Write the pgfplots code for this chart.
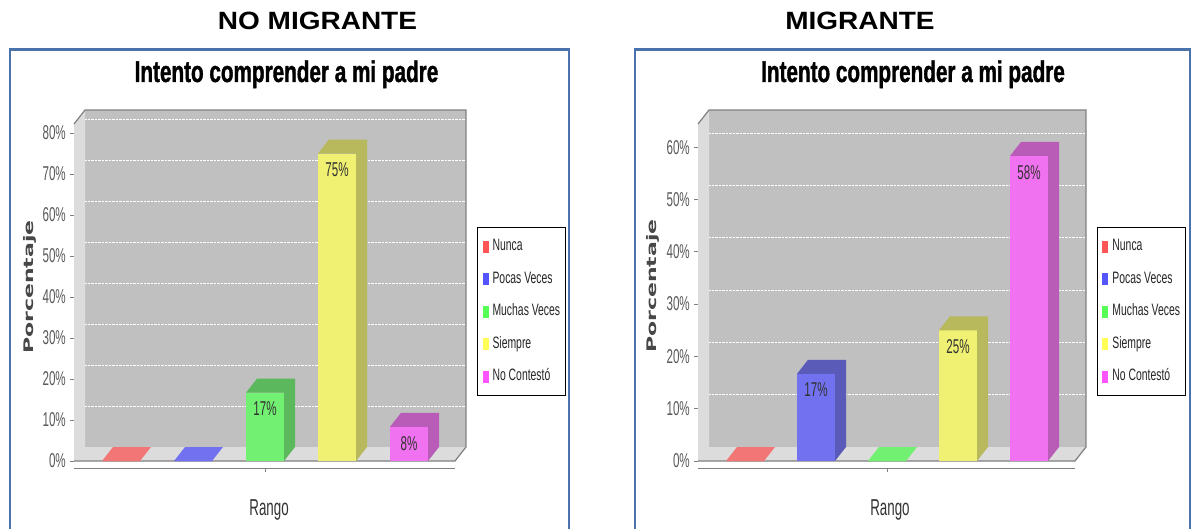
\documentclass[border=0pt]{standalone}
\usepackage{fontspec}
\usepackage{graphicx}
\usepackage{pgfplots}
\pgfplotsset{compat=1.18}
\setmainfont{Liberation Sans}
\newfontfamily\headfont[FakeStretch=1.12]{Liberation Sans}
\newfontfamily\titlefont[FakeStretch=0.69,FakeBold=1.2]{Liberation Sans}
\newfontfamily\narrowfont[FakeStretch=0.58]{Liberation Sans}
\newfontfamily\legfont[FakeStretch=0.63]{Liberation Sans}
\newfontfamily\labfont{DejaVu Sans}

\definecolor{frameblue}{HTML}{4A72AC}
\definecolor{wallback}{HTML}{C0C0C0}
\definecolor{wallside}{HTML}{DCDCDC}
\definecolor{edgegray}{HTML}{808080}
\definecolor{rF}{HTML}{F27676}\definecolor{rD}{HTML}{B85C5C}\definecolor{rL}{HTML}{FF5555}
\definecolor{bF}{HTML}{7272F0}\definecolor{bD}{HTML}{5A5AB8}\definecolor{bL}{HTML}{5555FF}
\definecolor{gF}{HTML}{72F072}\definecolor{gD}{HTML}{5CB85C}\definecolor{gL}{HTML}{55FF55}
\definecolor{yF}{HTML}{F0F072}\definecolor{yD}{HTML}{B8B85C}\definecolor{yL}{HTML}{FFFF55}
\definecolor{mF}{HTML}{F072F0}\definecolor{mD}{HTML}{B85CB8}\definecolor{mL}{HTML}{FF55FF}

% top + side face of a 3D bar; origin = front-top centre of the bar
\pgfdeclareplotmark{cube3d}{%
  \pgfmathsetmacro\Hneg{-\barval*\yunitpx}%
  \pgfmathsetmacro\Hside{14-\barval*\yunitpx}%
  \pgfpathmoveto{\pgfpoint{-19pt}{0pt}}%
  \pgfpathlineto{\pgfpoint{19pt}{0pt}}%
  \pgfpathlineto{\pgfpoint{19pt}{\Hneg pt}}%
  \pgfpathlineto{\pgfpoint{30pt}{\Hside pt}}%
  \pgfpathlineto{\pgfpoint{30pt}{14pt}}%
  \pgfpathlineto{\pgfpoint{-8pt}{14pt}}%
  \pgfpathclose
  \pgfusepath{fill}%
}

\pgfplotsset{
  mybar/.style 2 args={ybar, bar width=38pt, bar shift=0pt, fill=#1, draw=none,
    legend image code/.code={\fill[#2] (0pt,-6pt) rectangle (6pt,6pt);}},
  mycube/.style={forget plot, only marks, scatter, point meta=y, mark=cube3d,
    mark options={fill=#1, draw=none},
    scatter/@pre marker code/.code={}, scatter/@post marker code/.code={},
    visualization depends on={y \as \barval}},
  panel/.style={
    anchor=south west, scale only axis, height=337pt, clip=false,
    ymin=0,
    axis background/.style={fill=wallback, xshift=11pt, yshift=14pt},
    ymajorgrids, major grid style={white, densely dotted, line width=0.9pt, xshift=11pt, yshift=14pt},
    axis y line*=left, axis x line*=bottom,
    x axis line style={edgegray, line width=1pt, yshift=-7pt, -},
    y axis line style={edgegray, line width=1pt, -},
    xtick={2}, xticklabels={}, xtick style={yshift=-7pt, edgegray, line width=1pt},
    ytick style={edgegray, line width=1pt},
    tick align=outside, major tick length=4pt,
    yticklabel style={font=\narrowfont\fontsize{20}{20}\selectfont, text=black!65, inner xsep=4pt},
    xlabel={Rango},
    ylabel={\scalebox{1}[0.6]{Porcentaje}},
    every node near coord/.append style={anchor=north, yshift=-9pt, inner sep=0pt,
      font=\narrowfont\fontsize{20}{20}\selectfont, text=black!80},
    legend cell align=left,
    legend style={anchor=north west, draw=black, line width=1pt, fill=white,
      font=\legfont\fontsize{16.5}{16.5}\selectfont, text=black!85,
      inner xsep=5pt, inner ysep=12pt, row sep=18.5pt, column sep=4pt,
      nodes={inner sep=0pt, text height=11pt, text depth=3pt}},
  },
}

\newcommand\walls{%
  \fill[wallside] (rel axis cs:0,0) -- (rel axis cs:1,0) -- ([shift={(11pt,14pt)}]rel axis cs:1,0) -- ([shift={(11pt,14pt)}]rel axis cs:0,0) -- cycle;
  \fill[wallside] (rel axis cs:0,0) -- (rel axis cs:0,1) -- ([shift={(11pt,14pt)}]rel axis cs:0,1) -- ([shift={(11pt,14pt)}]rel axis cs:0,0) -- cycle;
  \draw[edgegray, line width=1.2pt] (rel axis cs:0,1) -- ([shift={(11pt,14pt)}]rel axis cs:0,1) -- ([shift={(11pt,14pt)}]rel axis cs:1,1) -- ([shift={(11pt,14pt)}]rel axis cs:1,0) -- (rel axis cs:1,0) -- (rel axis cs:0,0);
}

\begin{document}
\begin{tikzpicture}
\useasboundingbox (0pt,0pt) rectangle (1194pt,-529pt);
\fill[white] (0pt,0pt) rectangle (1194pt,-529pt);

% ---------- left panel ----------
\node[font=\headfont\bfseries\fontsize{25}{25}\selectfont, anchor=base] at (317.5pt,-30pt) {NO MIGRANTE};
\draw[frameblue, line width=2.3pt] (10pt,-540pt) -- (10pt,-49.5pt) -- (569pt,-49.5pt) -- (569pt,-540pt);
\node[font=\titlefont\bfseries\fontsize{30}{30}\selectfont, anchor=base] at (286.5pt,-82pt) {Intento comprender a mi padre};

\def\yunitpx{4.1}
\begin{axis}[panel, at={(85pt,-447pt)}, width=381pt,
  xmin=-0.653, xmax=4.639, ymax=82.2,
  ytick={0,10,20,30,40,50,60,70,80},
  yticklabels={0\%,10\%,20\%,30\%,40\%,50\%,60\%,70\%,80\%},
  xlabel style={at={(axis description cs:0.483,-0.2018)}, anchor=base,
    font=\narrowfont\fontsize{23}{23}\selectfont, text=black!80},
  ylabel style={at={(axis description cs:-0.1444,0.4748)}, anchor=center,
    font=\labfont\bfseries\fontsize{22}{22}\selectfont, text=black!72},
  legend style={at={(1.029,0.6528)}},
]
\walls
\addplot[mybar={rF}{rL}] coordinates {(0,0)};
\addlegendentry{Nunca}
\addplot[mycube=rF] coordinates {(0,0)};
\addplot[mybar={bF}{bL}] coordinates {(1,0)};
\addlegendentry{Pocas Veces}
\addplot[mycube=bF] coordinates {(1,0)};
\addplot[mybar={gF}{gL}, nodes near coords, point meta=explicit symbolic] coordinates {(2,16.67) [17\%]};
\addlegendentry{Muchas Veces}
\addplot[mycube=gD] coordinates {(2,16.67)};
\addplot[mybar={yF}{yL}, nodes near coords, point meta=explicit symbolic] coordinates {(3,75) [75\%]};
\addlegendentry{Siempre}
\addplot[mycube=yD] coordinates {(3,75)};
\addplot[mybar={mF}{mL}, nodes near coords, point meta=explicit symbolic] coordinates {(4,8.33) [8\%]};
\addlegendentry{No Contestó}
\addplot[mycube=mD] coordinates {(4,8.33)};
\end{axis}

% ---------- right panel ----------
\node[font=\headfont\bfseries\fontsize{25}{25}\selectfont, anchor=base] at (860pt,-30pt) {MIGRANTE};
\draw[frameblue, line width=2.3pt] (635pt,-540pt) -- (635pt,-49.5pt) -- (1190pt,-49.5pt) -- (1190pt,-540pt);
\node[font=\titlefont\bfseries\fontsize{30}{30}\selectfont, anchor=base] at (913pt,-82pt) {Intento comprender a mi padre};

\def\yunitpx{5.23}
\begin{axis}[panel, at={(709pt,-447pt)}, width=377pt,
  xmin=-0.662, xmax=4.648, ymax=64.44,
  ytick={0,10,20,30,40,50,60},
  yticklabels={0\%,10\%,20\%,30\%,40\%,50\%,60\%},
  xlabel style={at={(axis description cs:0.480,-0.2018)}, anchor=base,
    font=\narrowfont\fontsize{23}{23}\selectfont, text=black!80},
  ylabel style={at={(axis description cs:-0.1485,0.4777)}, anchor=center,
    font=\labfont\bfseries\fontsize{22}{22}\selectfont, text=black!72},
  legend style={at={(1.029,0.6528)}},
]
\walls
\addplot[mybar={rF}{rL}] coordinates {(0,0)};
\addlegendentry{Nunca}
\addplot[mycube=rF] coordinates {(0,0)};
\addplot[mybar={bF}{bL}, nodes near coords, point meta=explicit symbolic] coordinates {(1,16.67) [17\%]};
\addlegendentry{Pocas Veces}
\addplot[mycube=bD] coordinates {(1,16.67)};
\addplot[mybar={gF}{gL}] coordinates {(2,0)};
\addlegendentry{Muchas Veces}
\addplot[mycube=gF] coordinates {(2,0)};
\addplot[mybar={yF}{yL}, nodes near coords, point meta=explicit symbolic] coordinates {(3,25) [25\%]};
\addlegendentry{Siempre}
\addplot[mycube=yD] coordinates {(3,25)};
\addplot[mybar={mF}{mL}, nodes near coords, point meta=explicit symbolic] coordinates {(4,58.33) [58\%]};
\addlegendentry{No Contestó}
\addplot[mycube=mD] coordinates {(4,58.33)};
\end{axis}
\end{tikzpicture}
\end{document}
